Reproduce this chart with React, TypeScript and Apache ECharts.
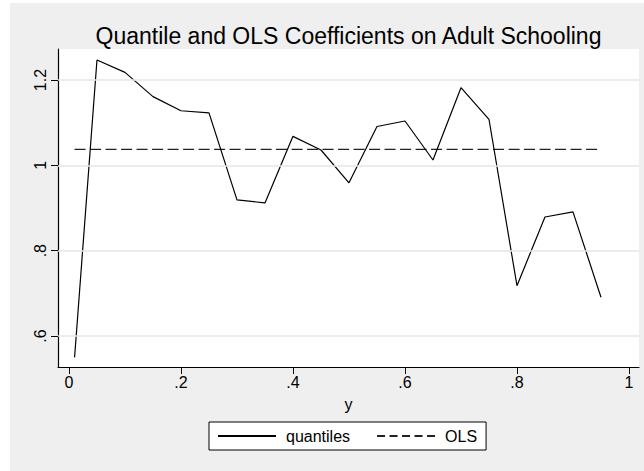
import React, { useEffect, useRef } from "react";
import * as echarts from "echarts";

const quantileX = [0.01, 0.05, 0.1, 0.15, 0.2, 0.25, 0.3, 0.35, 0.4, 0.45, 0.5, 0.55, 0.6, 0.65, 0.7, 0.75, 0.8, 0.85, 0.9, 0.95];
const quantileCoef = [0.55, 1.247, 1.218, 1.161, 1.128, 1.123, 0.919, 0.912, 1.068, 1.036, 0.959, 1.091, 1.104, 1.0125, 1.182, 1.108, 0.718, 0.879, 0.891, 0.691];
const olsX = [0.01, 0.95];
const olsCoef = [1.0375, 1.0375];
const xTicks = [0, 0.2, 0.4, 0.6, 0.8, 1];
const yTicks = [0.6, 0.8, 1, 1.2];
const titleText = "Quantile and OLS Coefficients on Adult Schooling";
const xName = "y";
const seriesNames = ["quantiles", "OLS"];

const fmt = (v: number) => {
  const s = String(Math.round(v * 100) / 100);
  return s.startsWith("0.") ? s.slice(1) : s;
};

const FONT = "Liberation Sans, Arial, Helvetica, sans-serif";

export default function App() {
  const ref = useRef<HTMLDivElement>(null);
  useEffect(() => {
    if (!ref.current) return;
    const chart = echarts.init(ref.current, null, { renderer: "svg" });
    chart.setOption({
      animation: false,
      backgroundColor: "#ffffff",
      textStyle: { fontFamily: FONT },
      graphic: [
        {
          type: "rect",
          left: 10,
          top: 3,
          shape: { width: 634, height: 468 },
          style: { fill: "#efefef" },
          z: -10,
          silent: true,
        },
      ],
      title: {
        text: titleText,
        left: 348.5,
        top: 24,
        textAlign: "center",
        padding: 0,
        textStyle: { fontSize: 23, fontWeight: "normal", color: "#000", fontFamily: FONT },
      },
      grid: {
        left: 58,
        top: 49,
        width: 581,
        height: 318,
        show: true,
        backgroundColor: "#ffffff",
        borderWidth: 0,
      },
      xAxis: {
        type: "value",
        min: -0.0196,
        max: 1.0179,
        name: xName,
        nameLocation: "middle",
        nameGap: 29,
        nameTextStyle: { fontSize: 16, color: "#000", fontFamily: FONT },
        axisLine: { show: true, onZero: false, lineStyle: { color: "#000", width: 1.2 } },
        axisTick: { show: true, length: 7, customValues: xTicks, lineStyle: { color: "#000", width: 1 } },
        axisLabel: { customValues: xTicks, formatter: (v: number) => fmt(v), fontSize: 16, color: "#000", margin: 7, fontFamily: FONT },
        splitLine: { show: false },
      },
      yAxis: {
        type: "value",
        min: 0.5274,
        max: 1.2727,
        axisLine: { show: true, onZero: false, lineStyle: { color: "#000", width: 1.2 } },
        axisTick: { show: true, length: 7, customValues: yTicks, lineStyle: { color: "#000", width: 1 } },
        axisLabel: { customValues: yTicks, formatter: (v: number) => fmt(v), rotate: 90, fontSize: 16, color: "#000", margin: 10, fontFamily: FONT },
        splitLine: { show: false },
      },
      legend: {
        data: [
          { name: seriesNames[0], itemStyle: { opacity: 0 } },
          { name: seriesNames[1], itemStyle: { opacity: 0 }, lineStyle: { type: [8, 4.5] } },
        ],
        left: 209,
        top: 422,
        padding: [6, 9, 6, 8],
        itemWidth: 58,
        itemHeight: 16,
        itemGap: 26,
        borderColor: "#000",
        borderWidth: 1,
        borderRadius: 0,
        backgroundColor: "#ffffff",
        itemStyle: { opacity: 0 },
        textStyle: { fontSize: 16, color: "#000", fontFamily: FONT, padding: [0, 0, 0, 5] },
        selectedMode: false,
      },
      series: [
        {
          name: "grid",
          type: "line",
          data: [],
          z: 1,
          silent: true,
          markLine: {
            silent: true,
            symbol: ["none", "none"],
            label: { show: false },
            lineStyle: { color: "#e6e6e6", width: 1.5, type: "solid" },
            data: yTicks.map((v) => ({ yAxis: v })),
          },
        },
        {
          name: seriesNames[1],
          type: "line",
          data: olsX.map((x, i) => [x, olsCoef[i]]),
          symbol: "none",
          z: 3,
          lineStyle: { color: "#222", width: 1.3, type: [11, 4.5] },
          itemStyle: { color: "#222" },
        },
        {
          name: seriesNames[0],
          type: "line",
          data: quantileX.map((x, i) => [x, quantileCoef[i]]),
          symbol: "none",
          z: 4,
          lineStyle: { color: "#000", width: 1.2 },
          itemStyle: { color: "#000" },
        },
      ],
    });
    return () => chart.dispose();
  }, []);
  return <div ref={ref} style={{ position: "absolute", left: 0, top: 0, width: 644, height: 471 }} />;
}
